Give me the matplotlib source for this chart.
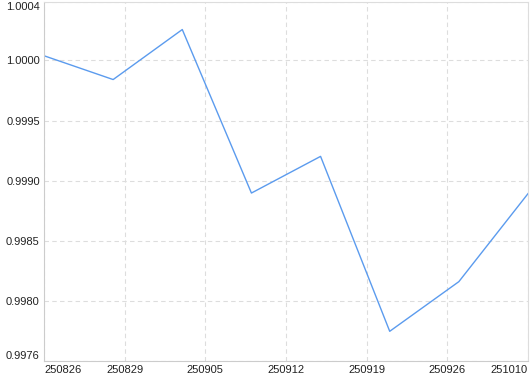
import matplotlib.pyplot as plt
import matplotlib.dates as mdates
import pandas as pd

# values, one point every 6 days
dates = ["2025-08-22", "2025-08-28", "2025-09-03", "2025-09-09",
         "2025-09-15", "2025-09-21", "2025-09-27", "2025-10-03"]
values = [1.000039, 0.999841, 1.000257, 0.998897,
          0.999202, 0.997747, 0.998160, 0.998892]

# weekly grid on Fridays, edge labels as shown in the chart
xtick_dates = ["2025-08-22", "2025-08-29", "2025-09-05", "2025-09-12",
               "2025-09-19", "2025-09-26", "2025-10-03"]
xtick_labels = ["250826", "250829", "250905", "250912", "250919", "250926", "251010"]

y_min, y_max = 0.99750, 1.000486
ytick_vals = [y_min, 0.9980, 0.9985, 0.9990, 0.9995, 1.0000, y_max]
ytick_labels = ["0.9976", "0.9980", "0.9985", "0.9990", "0.9995", "1.0000", "1.0004"]

plt.rcParams["font.family"] = ["Liberation Sans", "DejaVu Sans"]

x = pd.to_datetime(dates)
xt = pd.to_datetime(xtick_dates)

fig = plt.figure(figsize=(5.3, 3.74), dpi=100)
ax = fig.add_axes([44 / 530, 13 / 374, 484 / 530, 359 / 374])

ax.plot(x, values, color="#5b9bee", linewidth=1.0)

ax.set_xlim(x[0], x[-1])
ax.set_ylim(y_min, y_max)

ax.set_xticks(xt)
ax.set_xticklabels(xtick_labels)
ax.set_yticks(ytick_vals)
ax.set_yticklabels(ytick_labels)

xl = ax.get_xticklabels()
xl[0].set_ha("left")
xl[-1].set_ha("right")
yl = ax.get_yticklabels()
yl[0].set_va("bottom")
yl[-1].set_va("top")

ax.tick_params(length=0, labelsize=8, colors="#222222", pad=3)
ax.grid(True, color="#dddddd", linestyle=(0, (4, 3)), linewidth=0.8)

for side in ["left", "bottom"]:
    ax.spines[side].set_color("#cccccc")
for side in ["top", "right"]:
    ax.spines[side].set_color("#dddddd")

plt.savefig("out.png", dpi=100)
plt.close()
